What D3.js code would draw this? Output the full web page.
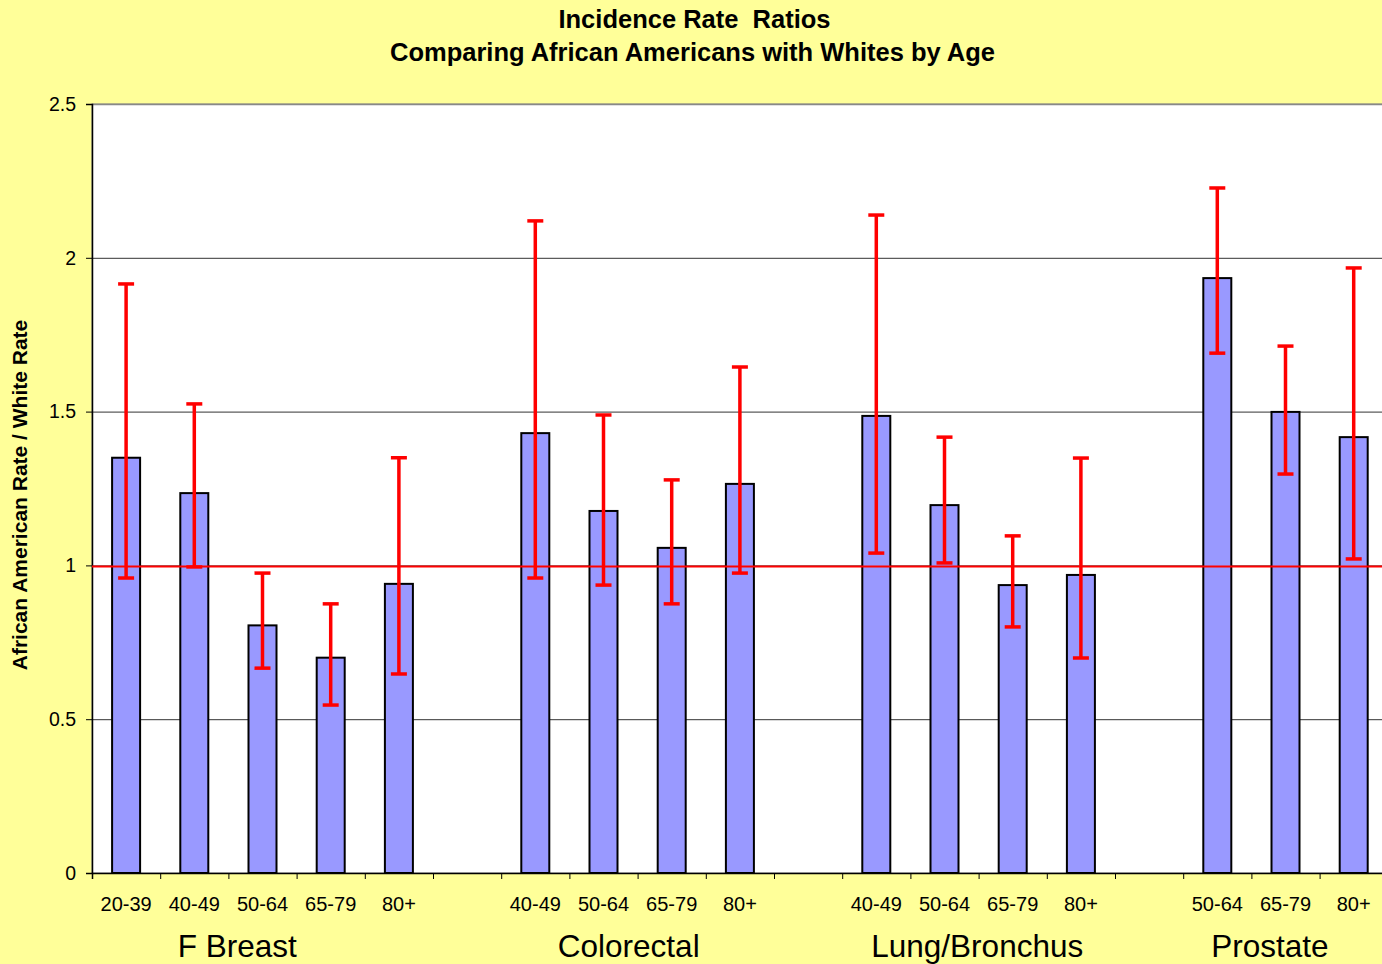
<!DOCTYPE html>
<html><head><meta charset="utf-8">
<script src="https://cdn.jsdelivr.net/npm/d3@7"></script>
<style>html,body{margin:0;padding:0;background:#FFFF99;overflow:hidden}</style>
</head><body>
<svg id="c" width="1382" height="964"></svg>
<script>
const groups = ["F Breast","Colorectal","Lung/Bronchus","Prostate"];
const groupLabelPos = [2.13, 7.87, 12.98, 17.27]; // in slot units
const categories = ["20-39","40-49","50-64","65-79","80+","",
  "40-49","50-64","65-79","80+","",
  "40-49","50-64","65-79","80+","",
  "50-64","65-79","80+"];
const ratio = [1.35,1.235,0.805,0.70,0.94,null,
  1.43,1.177,1.057,1.265,null,
  1.486,1.196,0.936,0.969,null,
  1.934,1.499,1.417];
const upper = [1.915,1.525,0.975,0.875,1.35,null,
  2.12,1.489,1.278,1.645,null,
  2.139,1.417,1.096,1.349,null,
  2.227,1.713,1.967];
const lower = [0.959,0.995,0.666,0.546,0.647,null,
  0.959,0.936,0.875,0.975,null,
  1.04,1.008,0.80,0.699,null,
  1.69,1.297,1.021];
const yTicks = [0,0.5,1,1.5,2,2.5];
const title1 = "Incidence Rate  Ratios";
const title2 = "Comparing African Americans with Whites by Age";
const yTitle = "African American Rate / White Rate";

const FONT = "Liberation Sans, Arial, sans-serif";
const svg = d3.select("#c");
const L = 92, T = 104, B = 873, slotW = 68.2;
const R = L + slotW * categories.length;
const idx = d3.range(categories.length);
const x = d3.scaleBand().domain(idx).range([L, R]).paddingInner(0).paddingOuter(0);
const xs = d3.scaleLinear().domain([0, categories.length]).range([L, R]);
const y = d3.scaleLinear().domain([0, 2.5]).range([B, T]);

svg.append("rect").attr("x",0).attr("y",0).attr("width",1382).attr("height",964).attr("fill","#FFFF99");
svg.append("rect").attr("x",L).attr("y",T).attr("width",R-L).attr("height",B-T)
  .attr("fill","#fff").attr("stroke","#808080").attr("stroke-width",1);

// gridlines
svg.append("g").selectAll("line").data(yTicks.filter(d=>d>0 && d<2.5)).join("line")
  .attr("x1",L).attr("x2",R).attr("y1",d=>y(d)+0.5).attr("y2",d=>y(d)+0.5)
  .attr("stroke","#333").attr("stroke-width",1);
svg.append("line").attr("x1",L).attr("x2",R).attr("y1",y(2.5)+0.5).attr("y2",y(2.5)+0.5)
  .attr("stroke","#888").attr("stroke-width",1.5);

// y axis
const yAxis = d3.axisLeft(y).tickValues(yTicks).tickSize(6).tickPadding(10).tickFormat(d3.format("~g"));
const gy = svg.append("g").attr("transform",`translate(${L},0)`).call(yAxis);
gy.select(".domain").attr("stroke","#000").attr("stroke-width",1.5);
gy.selectAll(".tick line").attr("stroke","#000");
gy.selectAll("text").attr("font-family",FONT).attr("font-size",19.5).attr("fill","#000");

// bars
const bw = 28;
const valid = idx.filter(i=>ratio[i]!=null);
svg.append("g").selectAll("rect").data(valid).join("rect")
  .attr("x",i=>x(i)+x.bandwidth()/2-bw/2).attr("y",i=>y(ratio[i]))
  .attr("width",bw).attr("height",i=>y(0)-y(ratio[i]))
  .attr("fill","#9999FF").attr("stroke","#000").attr("stroke-width",2);

// reference line at 1
svg.append("line").attr("x1",L).attr("x2",R).attr("y1",y(1)+1).attr("y2",y(1)+1)
  .attr("stroke","#FF0000").attr("stroke-width",2);

// x axis
const xAxis = d3.axisBottom(xs).tickValues(d3.range(categories.length+1)).tickSize(6).tickFormat("");
const gx = svg.append("g").attr("transform",`translate(0,${B})`).call(xAxis);
gx.select(".domain").attr("stroke","#000").attr("stroke-width",1.5);
gx.selectAll(".tick line").attr("stroke","#000");

// error bars
const eb = svg.append("g").attr("stroke","#FF0000").attr("stroke-width",3.5);
valid.forEach(i=>{
  const cx = x(i)+x.bandwidth()/2;
  eb.append("line").attr("x1",cx).attr("x2",cx).attr("y1",y(upper[i])).attr("y2",y(lower[i]));
  eb.append("line").attr("x1",cx-8).attr("x2",cx+8).attr("y1",y(upper[i])).attr("y2",y(upper[i]));
  eb.append("line").attr("x1",cx-8).attr("x2",cx+8).attr("y1",y(lower[i])).attr("y2",y(lower[i]));
});

// category labels
svg.append("g").selectAll("text").data(idx).join("text")
  .attr("x",i=>x(i)+x.bandwidth()/2).attr("y",911)
  .attr("text-anchor","middle").attr("font-family",FONT)
  .attr("font-size",20).attr("fill","#000").text(i=>categories[i]);

// group labels
svg.append("g").selectAll("text").data(groups).join("text")
  .attr("x",(d,i)=>xs(groupLabelPos[i])).attr("y",957)
  .attr("text-anchor","middle").attr("font-family",FONT)
  .attr("font-size",31.5).attr("fill","#000").text(d=>d);

// titles
svg.append("text").attr("x",694.5).attr("y",28).attr("text-anchor","middle")
  .attr("font-family",FONT).attr("font-weight","bold")
  .attr("font-size",25.5).attr("fill","#000").style("white-space","pre").text(title1);
svg.append("text").attr("x",692.5).attr("y",61).attr("text-anchor","middle")
  .attr("font-family",FONT).attr("font-weight","bold")
  .attr("font-size",25.5).attr("fill","#000").text(title2);

svg.append("text").attr("transform","translate(27,495) rotate(-90)").attr("text-anchor","middle")
  .attr("font-family",FONT).attr("font-weight","bold")
  .attr("font-size",21).attr("fill","#000").text(yTitle);
</script>
</body></html>
